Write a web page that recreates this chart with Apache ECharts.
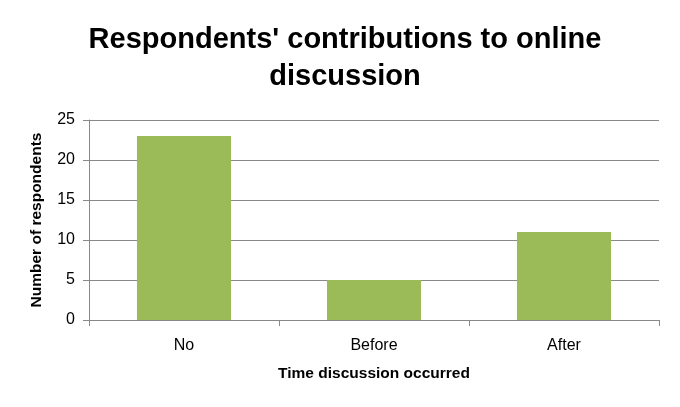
<!DOCTYPE html>
<html>
<head>
<meta charset="utf-8">
<script src="https://cdn.jsdelivr.net/npm/echarts@6/dist/echarts.min.js"></script>
<style>html,body{margin:0;padding:0;background:#fff;}#c{width:680px;height:407px;}</style>
</head>
<body>
<div id="c"></div>
<script>
const categories = ['No', 'Before', 'After'];
const respondents = [23, 5, 11];
const yTicks = [0, 5, 10, 15, 20, 25];

const chart = echarts.init(document.getElementById('c'));
const font = 'Liberation Sans, Arial, sans-serif';
chart.setOption({
  animation: false,
  backgroundColor: '#ffffff',
  title: {
    text: "Respondents' contributions to online\ndiscussion",
    left: 340,
    top: 16,
    textAlign: 'center',
    textStyle: { fontFamily: font, fontSize: 29, fontWeight: 'bold', color: '#000', lineHeight: 37 }
  },
  grid: { left: 89, right: 21, top: 120, bottom: 87, containLabel: false },
  xAxis: {
    type: 'category',
    data: categories,
    boundaryGap: true,
    name: 'Time discussion occurred',
    nameLocation: 'middle',
    nameGap: 46,
    nameTextStyle: { fontFamily: font, fontSize: 15.5, fontWeight: 'bold', color: '#000' },
    axisLine: { show: true, lineStyle: { color: '#888888', width: 1 } },
    axisTick: { show: true, length: 6, alignWithLabel: false, lineStyle: { color: '#888888' } },
    axisLabel: { fontFamily: font, fontSize: 16, color: '#000', margin: 18 },
    splitLine: { show: false }
  },
  yAxis: {
    type: 'value',
    min: yTicks[0],
    max: yTicks[yTicks.length - 1],
    interval: 5,
    name: 'Number of respondents',
    nameLocation: 'middle',
    nameGap: 44,
    nameRotate: 90,
    nameTextStyle: { fontFamily: font, fontSize: 15.5, fontWeight: 'bold', color: '#000' },
    axisLine: { show: true, lineStyle: { color: '#888888', width: 1 } },
    axisTick: { show: true, length: 6, lineStyle: { color: '#888888' } },
    axisLabel: { fontFamily: font, fontSize: 16, color: '#000', margin: 14 },
    splitLine: { show: true, lineStyle: { color: '#888888', width: 1 } }
  },
  series: [{
    type: 'bar',
    data: respondents,
    barWidth: '49.5%',
    itemStyle: { color: '#9BBB59' }
  }]
});
</script>
</body>
</html>
